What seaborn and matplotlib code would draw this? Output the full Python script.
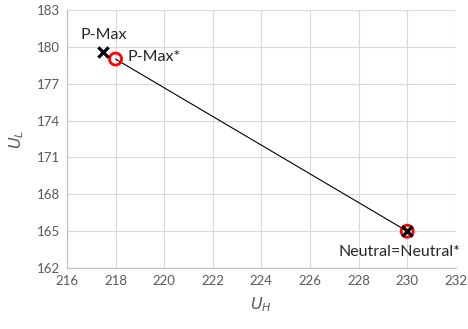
import matplotlib
matplotlib.use("Agg")
import matplotlib.pyplot as plt
import seaborn as sns
import pandas as pd

# points
labels = ["P-Max", "P-Max*", "Neutral", "Neutral*"]
u_h = [217.5, 218.0, 230.0, 230.0]
u_l = [179.6, 179.0, 165.0, 165.0]

df = pd.DataFrame({"label": labels, "UH": u_h, "UL": u_l})
starred = df[df["label"].str.endswith("*")]
plain = df[~df["label"].str.endswith("*")]

sns.set_style("white")
plt.rcParams["font.family"] = ["Lato", "DejaVu Sans"]

fig = plt.figure(figsize=(4.68, 3.29), dpi=100)
ax = fig.add_axes([0.143, 0.185, 0.831, 0.785])

sns.lineplot(data=starred, x="UH", y="UL", color="black", lw=0.8, ax=ax,
             zorder=2, sort=False)
sns.scatterplot(data=starred, x="UH", y="UL", marker="o", s=75,
                facecolor="none", edgecolor="#ff0000", linewidth=2, ax=ax, zorder=3)
sns.scatterplot(data=plain, x="UH", y="UL", marker="x", s=55,
                color="black", linewidth=2.3, ax=ax, zorder=4)

ax.set_xlim(216, 232)
ax.set_ylim(162, 183)
ax.set_xticks(range(216, 233, 2))
ax.set_yticks(range(162, 184, 3))
ax.grid(True, color="#d9d9d9", lw=0.8)
ax.set_axisbelow(True)
for s in ["top", "right"]:
    ax.spines[s].set_visible(False)
for s in ["left", "bottom"]:
    ax.spines[s].set_color("#bfbfbf")
    ax.spines[s].set_linewidth(0.8)
ax.tick_params(colors="#595959", labelsize=9.5, length=0, pad=5)

ax.set_xlabel("$U_H$", fontsize=11.5, color="#595959", labelpad=6)
ax.set_ylabel("$U_L$", fontsize=11.5, color="#595959", labelpad=8)

ax.text(217.5, 180.4, "P-Max", fontsize=11.5, ha="center", va="bottom")
ax.text(218.5, 179.2, "P-Max*", fontsize=11.5, ha="left", va="center")
ax.text(232.2, 163.9, "Neutral=Neutral*", fontsize=11.5, ha="right", va="top")

fig.savefig("out.png", dpi=100)
